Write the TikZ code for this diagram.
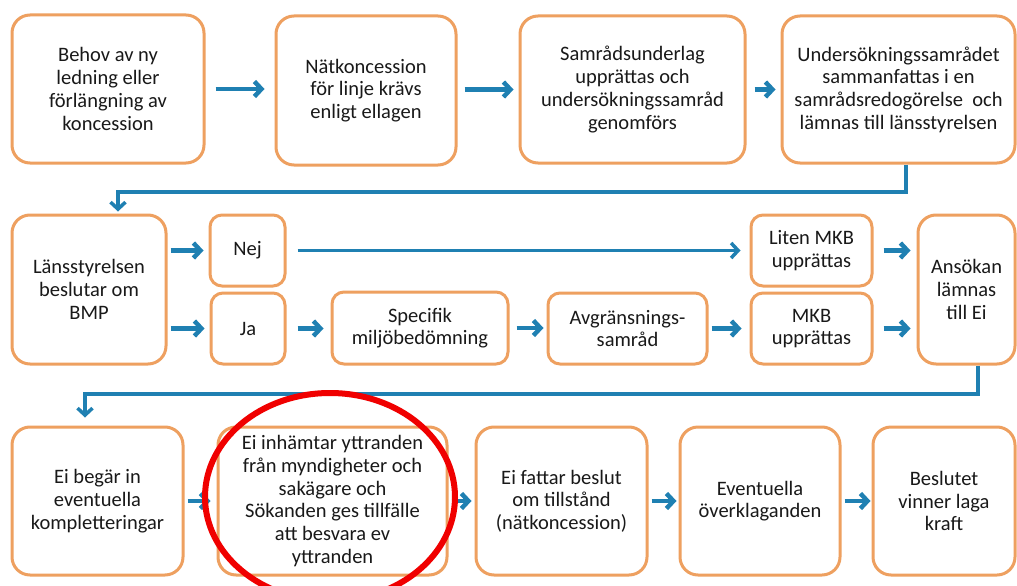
\documentclass[tikz,border=0pt]{standalone}
\usepackage{fontspec}
\setmainfont{Carlito}
\usetikzlibrary{arrows.meta}
\definecolor{boxor}{RGB}{238,160,96}
\definecolor{arrblue}{RGB}{31,128,178}
\definecolor{ringred}{RGB}{240,0,0}
\begin{document}
\begin{tikzpicture}[x=1pt,y=-1pt,
  box/.style={draw=boxor,line width=3pt,rounded corners=18pt,fill=white,align=center,inner sep=0pt,
    text=black!90,font=\fontsize{20.5}{22.7}\selectfont},
  small/.style={box,rounded corners=12pt},
  arr/.style={draw=arrblue,line width=4.5pt,-{Straight Barb[length=7pt,width=15pt]}},
  conn/.style={arr,line width=3.5pt}]
\useasboundingbox[fill=white] (0,0) rectangle (1017,586);
% top row
\node[box,minimum width=192pt,minimum height=148pt] (b1) at (108,89) {Behov av ny\\ledning eller\\förlängning av\\koncession};
\node[box,minimum width=180pt,minimum height=149pt] (b2) at (366,90.5) {Nätkoncession\\för linje krävs\\enligt ellagen};
\node[box,minimum width=225pt,minimum height=147pt] (b3) at (632.5,89.5) {Samrådsunderlag\\upprättas och\\undersökningssamråd\\genomförs};
\node[box,minimum width=233pt,minimum height=147pt] (b4) at (898.5,89.5) {Undersökningssamrådet\\sammanfattas i en\\samrådsredogörelse~ och\\lämnas till länsstyrelsen};
% middle row
\node[box,minimum width=154pt,minimum height=149pt] (b5) at (89,289.5) {Länsstyrelsen\\beslutar om\\BMP};
\node[small,minimum width=75pt,minimum height=71pt] (nej) at (247.5,250.5) {Nej};
\node[small,minimum width=74pt,minimum height=71pt] (ja) at (248,328.5) {Ja};
\node[small,minimum width=176pt,minimum height=72pt] (spec) at (420,328) {Specifik\\miljöbedömning};
\node[small,minimum width=159pt,minimum height=71pt] (avgr) at (627.5,328.5) {Avgränsnings-\\samråd};
\node[small,minimum width=121pt,minimum height=71pt] (liten) at (811.5,250.5) {Liten MKB\\upprättas};
\node[small,minimum width=121pt,minimum height=71pt] (mkb) at (811.5,328.5) {MKB\\upprättas};
\node[box,minimum width=97pt,minimum height=149pt] (ans) at (966.5,289.5) {Ansökan\\lämnas\\till Ei};
% bottom row
\node[box,minimum width=171pt,minimum height=148pt] (c1) at (97.5,501) {Ei begär in\\eventuella\\kompletteringar};
\node[box,minimum width=229pt,minimum height=148pt] (c2) at (332.5,501) {Ei inhämtar yttranden\\från myndigheter och\\sakägare och\\Sökanden ges tillfälle\\att besvara ev\\yttranden};
\node[box,minimum width=171pt,minimum height=148pt] (c3) at (561.5,501) {Ei fattar beslut\\om tillstånd\\(nätkoncession)};
\node[box,minimum width=160pt,minimum height=148pt] (c4) at (760,501) {Eventuella\\överklaganden};
\node[box,minimum width=142pt,minimum height=148pt] (c5) at (944,501) {Beslutet\\vinner laga\\kraft};
% top row arrows
\draw[arr] ([xshift=10pt]b1.east) -- ([xshift=-10pt]b2.west |- b1.east);
\draw[arr] ([xshift=7pt]b2.east |- b3.west) -- ([xshift=-5pt]b3.west);
\draw[arr] ([xshift=8pt]b3.east) -- ([xshift=-5pt]b4.west);
% connector to middle row
\coordinate (k1) at (118,192);
\draw[conn] ([xshift=7.5pt]b4.south) |- (k1) -- ([xshift=29pt,yshift=2pt]b5.north);
% middle arrows
\draw[arr] ([xshift=3pt]b5.east |- nej.west) -- ([xshift=-5pt]nej.west);
\draw[arr] ([xshift=3pt]b5.east |- ja.west) -- ([xshift=-5pt]ja.west);
\draw[conn] ([xshift=11pt]nej.east) -- ([xshift=-9pt]liten.west);
\draw[arr] ([xshift=11pt]ja.east) -- ([xshift=-7pt]spec.west |- ja.east);
\draw[arr] ([xshift=7pt]spec.east) -- ([xshift=-3pt]avgr.west |- spec.east);
\draw[arr] ([xshift=3pt]avgr.east) -- ([xshift=-8pt]mkb.west |- avgr.east);
\draw[arr] ([xshift=10pt]liten.east) -- ([xshift=-6pt]ans.west |- liten.east);
\draw[arr] ([xshift=10pt]mkb.east) -- ([xshift=-6pt]ans.west |- mkb.east);
% connector to bottom row
\coordinate (k2) at (85,394);
\draw[conn] ([xshift=11.5pt]ans.south) |- (k2) -- ([xshift=-12.5pt,yshift=8pt]c1.north);
% bottom arrows
\draw[arr] ([xshift=3pt]c1.east) -- ([xshift=-6pt]c2.west);
\draw[arr] ([xshift=3pt]c2.east) -- ([xshift=-3pt]c3.west);
\draw[arr] ([xshift=3pt]c3.east) -- ([xshift=-2pt]c4.west);
\draw[arr] ([xshift=3pt]c4.east) -- ([xshift=-1pt]c5.west);
% red highlight
\draw[ringred,line width=6pt] (330,497) ellipse [x radius=125pt,y radius=104pt];
\end{tikzpicture}
\end{document}
